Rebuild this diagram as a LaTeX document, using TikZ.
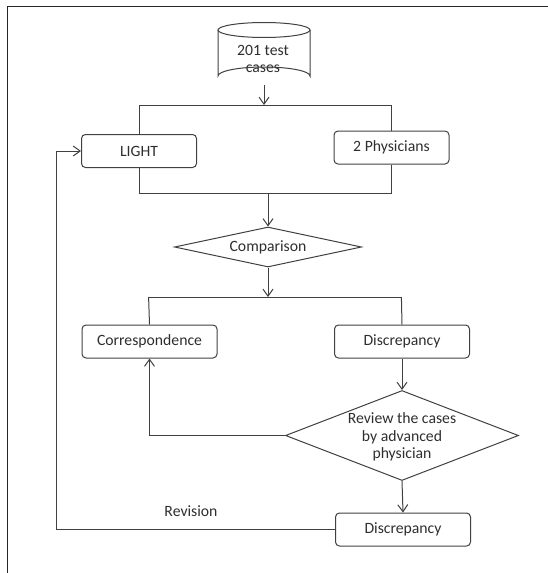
\documentclass[tikz,border=0pt]{standalone}
\usepackage{fontspec}
\setmainfont{Carlito}
\usetikzlibrary{arrows.meta,shapes.geometric}
\newlength{\calibw}
\AtBeginDocument{%
  \settowidth{\calibw}{\fontsize{10}{12}\selectfont Correspondence}%
  \pgfmathsetmacro{\fsz}{10*105/\calibw}%
  \xdef\fsz{\fsz}%
}
\begin{document}
\begin{tikzpicture}[x=1pt,y=-1pt,
  ln/.style={draw=black!75,line width=1pt},
  arr/.style={ln,-{Straight Barb[length=7pt,width=10pt,line width=1pt]}},
  txt/.style={font=\fontsize{\fsz}{17.5}\selectfont,text=black!82},
  box/.style={ln,txt,rounded corners=4pt,minimum height=33pt,inner sep=0pt},
  dia/.style={ln,diamond,inner sep=0pt}
]
\useasboundingbox (0,0) rectangle (548,573);
% frame
\draw[line width=1.1pt,black!85] (548,6.5) -- (7.5,6.5) -- (7.5,573);

% database
\node[txt,minimum width=92pt,minimum height=46pt,inner sep=0pt,align=center] (db) at (263,59) {201 test\\cases};
\draw[ln] (218,30) -- (218,76) arc[start angle=180,end angle=360,x radius=46,y radius=9] -- (310,30);
\draw[ln] (264,30) ellipse[x radius=46,y radius=7.5];
\coordinate (dbb) at (264,85);

\coordinate (b1) at (264,105);
\coordinate (b1l) at (139,105);
\coordinate (b1r) at (391.5,105);
\node[box,minimum width=115pt] (light) at (139,151) {LIGHT};
\node[box,minimum width=115pt] (phys) at (391.5,147.5) {2 Physicians};
\coordinate (b2l) at (139,193);
\coordinate (b2r) at (391.5,193);
\coordinate (b2) at (268,193);

\draw[arr] (dbb) -- (b1);
\draw[ln] (b1l) -- (b1r);
\draw[ln] (b1l) -- (light.north);
\draw[ln] (b1r) -- (phys.north);
\draw[ln] (light.south) -- (b2l);
\draw[ln] (phys.south) -- (b2r);
\draw[ln] (b2l) -- (b2r);

\node[dia,minimum width=187pt,minimum height=40pt] (cmp) at (268,247) {};
\node[txt] (cmptxt) at (cmp.center) {Comparison};
\draw[arr] (b2) -- (cmp.north);

\coordinate (b3) at (268,297);
\coordinate (b3l) at (148.6,297);
\coordinate (b3r) at (401.4,297);
\draw[arr] (cmp.south) -- (b3);
\draw[ln] (b3l) -- (b3r);

\node[box,minimum width=135pt] (corr) at (149.5,341.5) {Correspondence};
\node[box,minimum width=135pt] (disc) at (402,341.5) {Discrepancy};
\draw[ln] (b3l) -- (corr.north);
\draw[ln] (b3r) -- (disc.north);

\node[dia,minimum width=233pt,minimum height=90pt] (rev) at (402,435.5) {};
\node[txt,align=center] (revtxt) at (402,437) {Review the cases\\by advanced\\physician};
\draw[arr] (disc.south) -- (rev.north);
\coordinate (c1) at (149.5,435.5);
\draw[arr] (rev.west) -- (c1) -- (corr.south);

\node[box,minimum width=135pt] (disc2) at (403,529.5) {Discrepancy};
\draw[arr] (rev.south) -- (disc2.north);

\coordinate (f1) at (56,529.5);
\coordinate (f2) at (56,151);
\draw[arr] (disc2.west) -- (f1) -- (f2) -- (light.west);
\node[txt] (revlbl) at (191,511) {Revision};
\end{tikzpicture}
\end{document}
